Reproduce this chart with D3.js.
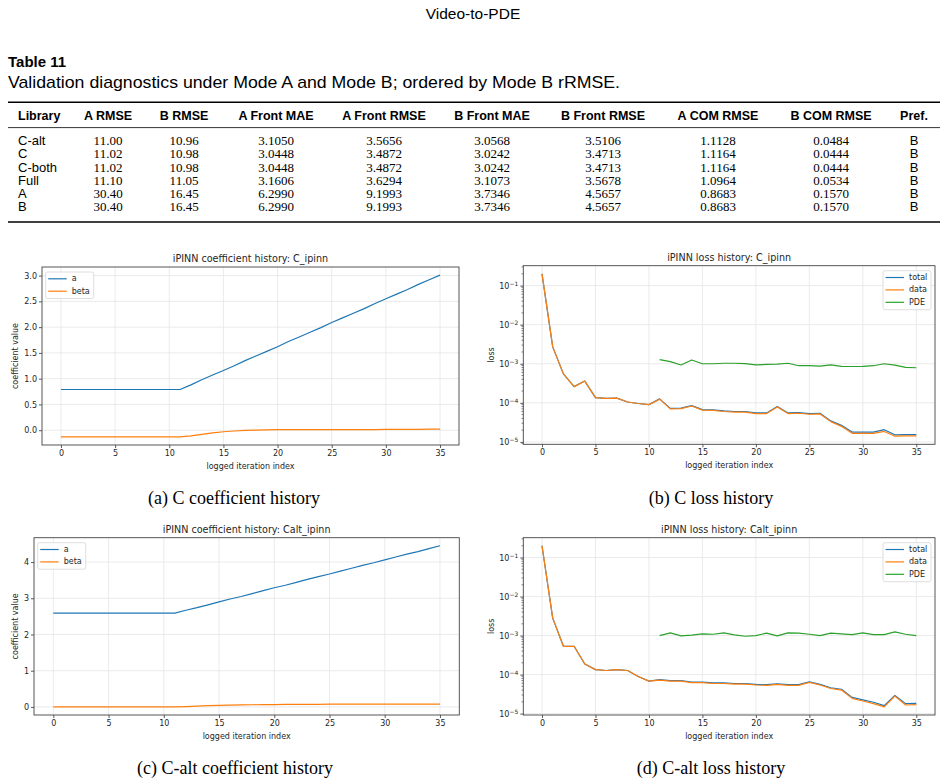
<!DOCTYPE html>
<html>
<head>
<meta charset="utf-8">
<script src="https://cdn.jsdelivr.net/npm/d3@7"></script>
<style>
  body { margin: 0; background: #fff; }
  svg  { display: block; }
</style>
</head>
<body>
<svg id="page" width="947" height="783"></svg>
<script>
'use strict';

// ---- table data ----
const TABLE_HEADERS = ['Library', 'A RMSE', 'B RMSE', 'A Front MAE', 'A Front RMSE', 'B Front MAE',
                       'B Front RMSE', 'A COM RMSE', 'B COM RMSE', 'Pref.'];
const LIBRARIES   = ['C-alt', 'C', 'C-both', 'Full', 'A', 'B'];
const A_RMSE      = ['11.00', '11.02', '11.02', '11.10', '30.40', '30.40'];
const B_RMSE      = ['10.96', '10.98', '10.98', '11.05', '16.45', '16.45'];
const A_FRONT_MAE = ['3.1050', '3.0448', '3.0448', '3.1606', '6.2990', '6.2990'];
const A_FRONT_RMSE= ['3.5656', '3.4872', '3.4872', '3.6294', '9.1993', '9.1993'];
const B_FRONT_MAE = ['3.0568', '3.0242', '3.0242', '3.1073', '3.7346', '3.7346'];
const B_FRONT_RMSE= ['3.5106', '3.4713', '3.4713', '3.5678', '4.5657', '4.5657'];
const A_COM_RMSE  = ['1.1128', '1.1164', '1.1164', '1.0964', '0.8683', '0.8683'];
const B_COM_RMSE  = ['0.0484', '0.0444', '0.0444', '0.0534', '0.1570', '0.1570'];
const PREF        = ['B', 'B', 'B', 'B', 'B', 'B'];

// ---- chart data ----
const ITER    = [0,1,2,3,4,5,6,7,8,9,10,11,12,13,14,15,16,17,18,19,20,21,22,23,24,25,26,27,28,29,30,31,32,33,34,35];
const X_TICKS = [0, 5, 10, 15, 20, 25, 30, 35];

const C_A = [0.79,0.79,0.79,0.79,0.79,0.79,0.79,0.79,0.79,0.79,0.79,0.79,
             0.88,0.98,1.07,1.16,1.25,1.35,1.44,1.53,1.62,1.72,1.81,1.90,
             1.99,2.09,2.18,2.27,2.36,2.46,2.55,2.64,2.73,2.83,2.92,3.01];
const C_BETA = [-0.13,-0.13,-0.13,-0.13,-0.13,-0.13,-0.13,-0.13,-0.13,-0.13,-0.13,-0.13,
                -0.11,-0.08,-0.05,-0.03,-0.015,-0.005,0.0,0.005,0.01,0.01,0.01,0.01,
                0.01,0.01,0.01,0.01,0.01,0.01,0.015,0.015,0.015,0.015,0.02,0.02];
const C_COEF_TICKS = [0.0, 0.5, 1.0, 1.5, 2.0, 2.5, 3.0];

const CALT_A = [2.59,2.59,2.59,2.59,2.59,2.59,2.59,2.59,2.59,2.59,2.59,2.59,
                2.67,2.74,2.82,2.90,2.98,3.05,3.13,3.21,3.29,3.36,3.44,3.52,
                3.60,3.67,3.75,3.83,3.91,3.98,4.06,4.14,4.22,4.29,4.37,4.45];
const CALT_BETA = [0,0,0,0,0,0,0,0,0,0,0,0,
                   0.01,0.02,0.035,0.045,0.05,0.055,0.06,0.065,0.065,0.07,0.07,0.07,
                   0.07,0.075,0.075,0.075,0.075,0.075,0.075,0.075,0.08,0.08,0.08,0.08];
const CALT_COEF_TICKS = [0, 1, 2, 3, 4];

const C_TOTAL = [0.2,2.7e-3,5.5e-4,2.6e-4,3.6e-4,1.36e-4,1.3e-4,1.32e-4,1.05e-4,9.6e-5,9.0e-5,
                 1.26e-4,7.2e-5,7.3e-5,8.5e-5,6.7e-5,6.6e-5,6.2e-5,6.0e-5,6.0e-5,5.5e-5,5.5e-5,
                 8.0e-5,5.5e-5,5.6e-5,5.3e-5,5.4e-5,3.45e-5,2.65e-5,1.78e-5,1.78e-5,1.78e-5,
                 2.05e-5,1.52e-5,1.54e-5,1.53e-5];
const C_DATA = [0.2,2.7e-3,5.5e-4,2.6e-4,3.6e-4,1.36e-4,1.3e-4,1.32e-4,1.05e-4,9.6e-5,9.0e-5,
                1.24e-4,7.0e-5,7.1e-5,8.3e-5,6.5e-5,6.4e-5,6.0e-5,5.8e-5,5.8e-5,5.3e-5,5.3e-5,
                7.8e-5,5.3e-5,5.4e-5,5.1e-5,5.2e-5,3.3e-5,2.5e-5,1.66e-5,1.66e-5,1.66e-5,
                1.85e-5,1.4e-5,1.42e-5,1.42e-5];
const C_PDE = [null,null,null,null,null,null,null,null,null,null,null,
               1.28e-3,1.13e-3,9.3e-4,1.25e-3,1.0e-3,1.0e-3,1.03e-3,1.03e-3,1.01e-3,9.3e-4,9.6e-4,
               9.8e-4,1.03e-3,8.9e-4,8.9e-4,8.7e-4,9.3e-4,8.6e-4,8.5e-4,8.6e-4,8.9e-4,
               1.0e-3,9.2e-4,8.1e-4,7.9e-4];

const CALT_TOTAL = [0.2,2.8e-3,5.3e-4,5.3e-4,1.87e-4,1.34e-4,1.27e-4,1.34e-4,1.27e-4,8.9e-5,6.8e-5,
                    7.4e-5,7.0e-5,7.0e-5,6.4e-5,6.4e-5,6.1e-5,6.1e-5,5.9e-5,5.9e-5,5.6e-5,5.5e-5,
                    5.8e-5,5.5e-5,5.5e-5,6.5e-5,5.6e-5,4.6e-5,4.2e-5,2.6e-5,2.25e-5,1.95e-5,
                    1.6e-5,2.9e-5,1.8e-5,1.82e-5];
const CALT_DATA = [0.2,2.8e-3,5.3e-4,5.3e-4,1.87e-4,1.34e-4,1.27e-4,1.34e-4,1.27e-4,8.9e-5,6.8e-5,
                   7.2e-5,6.8e-5,6.8e-5,6.2e-5,6.2e-5,5.9e-5,5.9e-5,5.7e-5,5.7e-5,5.4e-5,5.3e-5,
                   5.6e-5,5.3e-5,5.3e-5,6.3e-5,5.4e-5,4.4e-5,4.0e-5,2.45e-5,2.1e-5,1.8e-5,
                   1.48e-5,2.8e-5,1.66e-5,1.7e-5];
const CALT_PDE = [null,null,null,null,null,null,null,null,null,null,null,
                  1.0e-3,1.17e-3,9.8e-4,1.03e-3,1.1e-3,1.08e-3,1.17e-3,1.04e-3,9.6e-4,1.0e-3,1.15e-3,
                  9.8e-4,1.17e-3,1.15e-3,1.08e-3,1.0e-3,1.15e-3,1.1e-3,1.06e-3,1.17e-3,1.06e-3,
                  1.06e-3,1.24e-3,1.08e-3,1.0e-3];
const LOSS_TICKS = [1e-5, 1e-4, 1e-3, 1e-2, 1e-1];

const COLORS = { blue: '#1f77b4', orange: '#ff7f0e', green: '#2ca02c' };
const SANS   = '"DejaVu Sans", sans-serif';
const LSANS  = '"Liberation Sans", sans-serif';
const SERIF  = '"Liberation Serif", "Times New Roman", serif';
const TEXT   = '#262626';

const svg = d3.select('#page');

// ---- page header + table ----
svg.append('text')
  .attr('x', 473).attr('y', 19).attr('text-anchor', 'middle')
  .attr('font-family', LSANS).attr('font-size', 15.5)
  .text('Video-to-PDE');

svg.append('text')
  .attr('x', 8).attr('y', 67)
  .attr('font-family', LSANS).attr('font-size', 15).attr('font-weight', 'bold')
  .text('Table 11');

svg.append('text')
  .attr('x', 8).attr('y', 88)
  .attr('font-family', LSANS).attr('font-size', 17)
  .attr('textLength', 612).attr('lengthAdjust', 'spacingAndGlyphs')
  .text('Validation diagnostics under Mode A and Mode B; ordered by Mode B rRMSE.');

const COL_X = [18, 108, 184, 276, 384, 492, 603, 718, 831, 914];
const columns = [LIBRARIES, A_RMSE, B_RMSE, A_FRONT_MAE, A_FRONT_RMSE, B_FRONT_MAE,
                 B_FRONT_RMSE, A_COM_RMSE, B_COM_RMSE, PREF];

svg.append('line').attr('x1', 8).attr('x2', 940).attr('y1', 102.3).attr('y2', 102.3)
  .attr('stroke', '#000').attr('stroke-width', 1.6);
svg.append('line').attr('x1', 8).attr('x2', 940).attr('y1', 127.6).attr('y2', 127.6)
  .attr('stroke', '#000').attr('stroke-width', 0.8);
svg.append('line').attr('x1', 8).attr('x2', 940).attr('y1', 222).attr('y2', 222)
  .attr('stroke', '#000').attr('stroke-width', 1.6);

svg.append('g').selectAll('text').data(TABLE_HEADERS).join('text')
  .attr('x', (d, i) => COL_X[i])
  .attr('y', 120.2)
  .attr('text-anchor', (d, i) => i === 0 ? 'start' : 'middle')
  .attr('font-family', LSANS).attr('font-size', 12.5).attr('font-weight', 'bold')
  .text(d => d);

const ROW_Y = d3.scaleLinear().domain([0, 5]).range([145.2, 211.2]);
columns.forEach((col, ci) => {
  const serifCol = ci > 0 && ci < 9;
  svg.append('g').selectAll('text').data(col).join('text')
    .attr('x', COL_X[ci])
    .attr('y', (d, ri) => ROW_Y(ri))
    .attr('text-anchor', ci === 0 ? 'start' : 'middle')
    .attr('font-family', serifCol ? SERIF : LSANS)
    .attr('font-size', 13)
    .text(d => d);
});

// ---- chart helpers ----
function padLin([a, b]) { const m = (b - a) * 0.05; return [a - m, b + m]; }
function padLog([a, b]) {
  const la = Math.log10(a), lb = Math.log10(b), m = (lb - la) * 0.05;
  return [Math.pow(10, la - m), Math.pow(10, lb + m)];
}

function drawPanel(cfg) {
  const g = svg.append('g');
  const { left, right, top, bottom } = cfg.box;
  const x = d3.scaleLinear().domain(padLin(d3.extent(ITER))).range([left, right]);
  const all = cfg.series.flatMap(s => s.values).filter(v => v != null);
  const y = cfg.log
    ? d3.scaleLog().domain(padLog(d3.extent(all))).range([bottom, top])
    : d3.scaleLinear().domain(padLin(d3.extent(all))).range([bottom, top]);

  // grid
  g.append('g').selectAll('line').data(X_TICKS).join('line')
    .attr('x1', d => x(d)).attr('x2', d => x(d)).attr('y1', top).attr('y2', bottom)
    .attr('stroke', '#e6e6e6').attr('stroke-width', 0.8);
  g.append('g').selectAll('line').data(cfg.yTicks).join('line')
    .attr('x1', left).attr('x2', right).attr('y1', d => y(d)).attr('y2', d => y(d))
    .attr('stroke', '#e6e6e6').attr('stroke-width', 0.8);

  // axes
  const xAxis = g.append('g').attr('transform', `translate(0,${bottom})`)
    .call(d3.axisBottom(x).tickValues(X_TICKS).tickSize(3).tickPadding(2).tickFormat(d3.format('d')));
  const yAxisGen = d3.axisLeft(y).tickValues(cfg.yTicks).tickSize(3).tickPadding(2)
    .tickFormat(cfg.log ? () => '' : cfg.yFormat);
  const yAxis = g.append('g').attr('transform', `translate(${left},0)`).call(yAxisGen);
  [xAxis, yAxis].forEach(a => {
    a.select('.domain').remove();
    a.selectAll('.tick line').attr('stroke', '#333').attr('stroke-width', 0.8);
    a.selectAll('text').attr('font-family', SANS).attr('font-size', 8).attr('fill', TEXT);
  });

  if (cfg.log) {
    // 10^k labels with superscript exponent
    yAxis.selectAll('.tick').each(function (d) {
      const t = d3.select(this).select('text');
      const e = Math.round(Math.log10(d));
      t.text(null);
      t.append('tspan').text('10');
      t.append('tspan').attr('dy', '-0.45em').attr('font-size', 6)
        .text((e < 0 ? '\u2212' : '') + Math.abs(e));
    });
    // minor ticks
    const minors = [];
    const [d0, d1] = y.domain();
    for (let p = Math.floor(Math.log10(d0)); p <= Math.ceil(Math.log10(d1)); p++) {
      for (let k = 2; k <= 9; k++) {
        const v = k * Math.pow(10, p);
        if (v >= d0 && v <= d1) minors.push(v);
      }
    }
    g.append('g').selectAll('line').data(minors).join('line')
      .attr('x1', left - 1.8).attr('x2', left).attr('y1', d => y(d)).attr('y2', d => y(d))
      .attr('stroke', '#333').attr('stroke-width', 0.6);
  }

  // series
  const line = d3.line().defined(d => d[1] != null).x(d => x(d[0])).y(d => y(d[1]));
  cfg.series.forEach(s => {
    g.append('path')
      .datum(ITER.map((it, i) => [it, s.values[i]]))
      .attr('fill', 'none').attr('stroke', s.color).attr('stroke-width', 1.2)
      .attr('stroke-linejoin', 'round')
      .attr('d', line);
  });

  // frame
  g.append('rect').attr('x', left).attr('y', top).attr('width', right - left).attr('height', bottom - top)
    .attr('fill', 'none').attr('stroke', '#444').attr('stroke-width', 0.9);

  // texts
  g.append('text').attr('x', (left + right) / 2).attr('y', top - 5).attr('text-anchor', 'middle')
    .attr('font-family', SANS).attr('font-size', 9.6).attr('fill', TEXT).text(cfg.title);
  g.append('text').attr('x', (left + right) / 2).attr('y', bottom + 24).attr('text-anchor', 'middle')
    .attr('font-family', SANS).attr('font-size', 8).attr('fill', TEXT).text('logged iteration index');
  g.append('text')
    .attr('transform', `translate(${cfg.yLabelX},${(top + bottom) / 2}) rotate(-90)`)
    .attr('text-anchor', 'middle').attr('dy', '0.32em')
    .attr('font-family', SANS).attr('font-size', 8).attr('fill', TEXT).text(cfg.yLabel);

  // legend
  const lw = 48, lh = 12.5 * cfg.series.length + 1.5;
  const lx = cfg.legendRight ? right - 4 - lw : left + 3.7;
  const ly = top + 5;
  const leg = g.append('g').attr('transform', `translate(${lx},${ly})`);
  leg.append('rect').attr('width', lw).attr('height', lh).attr('rx', 2)
    .attr('fill', '#fff').attr('fill-opacity', 0.8).attr('stroke', '#d6d6d6').attr('stroke-width', 0.8);
  cfg.series.forEach((s, i) => {
    const yy = 6.8 + i * 12.4;
    leg.append('line').attr('x1', 2.5).attr('x2', 21).attr('y1', yy).attr('y2', yy)
      .attr('stroke', s.color).attr('stroke-width', 1.2);
    leg.append('text').attr('x', 26).attr('y', yy).attr('dy', '0.32em')
      .attr('font-family', SANS).attr('font-size', 8).attr('fill', TEXT).text(s.name);
  });

  // sub-figure caption
  svg.append('text').attr('x', cfg.capX).attr('y', cfg.capY).attr('text-anchor', 'middle')
    .attr('font-family', SERIF).attr('font-size', 18).attr('fill', '#000').text(cfg.caption);
}

const oneDec = d3.format('.1f');
const intFmt = d3.format('d');

drawPanel({
  box: { left: 42, right: 459, top: 267, bottom: 445 },
  title: 'iPINN coefficient history: C_ipinn', yLabel: 'coefficient value', yLabelX: 15,
  yTicks: C_COEF_TICKS, yFormat: oneDec,
  series: [{ name: 'a', values: C_A, color: COLORS.blue }, { name: 'beta', values: C_BETA, color: COLORS.orange }],
  caption: '(a) C coefficient history', capX: 234, capY: 503.5
});
drawPanel({
  box: { left: 523.3, right: 935, top: 265.7, bottom: 444.3 }, log: true,
  title: 'iPINN loss history: C_ipinn', yLabel: 'loss', yLabelX: 491.7,
  yTicks: LOSS_TICKS, legendRight: true,
  series: [{ name: 'total', values: C_TOTAL, color: COLORS.blue },
           { name: 'data', values: C_DATA, color: COLORS.orange },
           { name: 'PDE', values: C_PDE, color: COLORS.green }],
  caption: '(b) C loss history', capX: 711, capY: 503.5
});
drawPanel({
  box: { left: 34, right: 459.3, top: 537.7, bottom: 715 },
  title: 'iPINN coefficient history: Calt_ipinn', yLabel: 'coefficient value', yLabelX: 15,
  yTicks: CALT_COEF_TICKS, yFormat: intFmt,
  series: [{ name: 'a', values: CALT_A, color: COLORS.blue }, { name: 'beta', values: CALT_BETA, color: COLORS.orange }],
  caption: '(c) C-alt coefficient history', capX: 235, capY: 773.5
});
drawPanel({
  box: { left: 523.3, right: 935, top: 537.7, bottom: 715 }, log: true,
  title: 'iPINN loss history: Calt_ipinn', yLabel: 'loss', yLabelX: 491.7,
  yTicks: LOSS_TICKS, legendRight: true,
  series: [{ name: 'total', values: CALT_TOTAL, color: COLORS.blue },
           { name: 'data', values: CALT_DATA, color: COLORS.orange },
           { name: 'PDE', values: CALT_PDE, color: COLORS.green }],
  caption: '(d) C-alt loss history', capX: 711, capY: 773.5
});
</script>
</body>
</html>
